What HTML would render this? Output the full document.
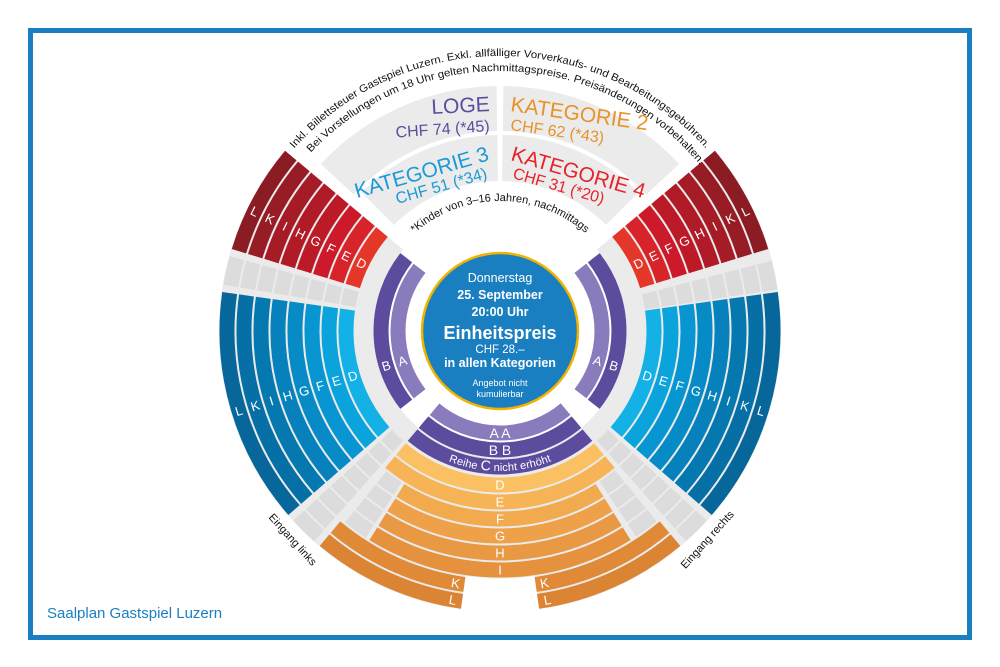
<!DOCTYPE html>
<html><head><meta charset="utf-8"><style>
html,body{margin:0;padding:0;background:#fff;overflow:hidden;width:1000px;height:667px;}
svg{display:block;font-family:"Liberation Sans",sans-serif;}
</style></head><body>
<svg width="1000" height="667" viewBox="0 0 1000 667" xmlns="http://www.w3.org/2000/svg">
<rect x="30.5" y="30.5" width="939" height="607" fill="#fff" stroke="#1a7fc1" stroke-width="5"/>
<text x="47" y="618" font-size="15" fill="#1a7fc1">Saalplan Gastspiel Luzern</text>

<g fill="none">
<circle cx="500" cy="331" r="187" stroke="#ebebeb" stroke-width="121" pathLength="360" stroke-dasharray="260 999" transform="rotate(-40 500 331)"/>
<circle cx="500" cy="331" r="264" stroke="#ebebeb" stroke-width="34" pathLength="360" stroke-dasharray="122 999" transform="rotate(-40 500 331)"/>
<circle cx="500" cy="331" r="264" stroke="#ebebeb" stroke-width="34" pathLength="360" stroke-dasharray="122 999" transform="rotate(98 500 331)"/>
<circle cx="500" cy="331" r="222.5" stroke="#ebebeb" stroke-width="45" pathLength="360" stroke-dasharray="46.2 999" transform="rotate(223 500 331)"/>
<circle cx="500" cy="331" r="222.5" stroke="#ebebeb" stroke-width="45" pathLength="360" stroke-dasharray="46.2 999" transform="rotate(-89.2 500 331)"/>
<circle cx="500" cy="331" r="173" stroke="#ebebeb" stroke-width="46" pathLength="360" stroke-dasharray="44.2 999" transform="rotate(225 500 331)"/>
<circle cx="500" cy="331" r="173" stroke="#ebebeb" stroke-width="46" pathLength="360" stroke-dasharray="44.2 999" transform="rotate(-89.2 500 331)"/>
</g>

<g fill="none" stroke-width="15">
<g stroke-dasharray="23 999" transform="rotate(197 500 331)">
<circle cx="500" cy="331" r="154" stroke="#e5362a" pathLength="360"/>
<circle cx="500" cy="331" r="171" stroke="#d7232a" pathLength="360"/>
<circle cx="500" cy="331" r="188" stroke="#cc1a2a" pathLength="360"/>
<circle cx="500" cy="331" r="205" stroke="#bd1a28" pathLength="360"/>
<circle cx="500" cy="331" r="222" stroke="#b01b27" pathLength="360"/>
<circle cx="500" cy="331" r="239" stroke="#a51c27" pathLength="360"/>
<circle cx="500" cy="331" r="256" stroke="#981c25" pathLength="360"/>
<circle cx="500" cy="331" r="273" stroke="#8b1c24" pathLength="360"/>
</g>
<g stroke-dasharray="23 999" transform="rotate(-40 500 331)">
<circle cx="500" cy="331" r="154" stroke="#e5362a" pathLength="360"/>
<circle cx="500" cy="331" r="171" stroke="#d7232a" pathLength="360"/>
<circle cx="500" cy="331" r="188" stroke="#cc1a2a" pathLength="360"/>
<circle cx="500" cy="331" r="205" stroke="#bd1a28" pathLength="360"/>
<circle cx="500" cy="331" r="222" stroke="#b01b27" pathLength="360"/>
<circle cx="500" cy="331" r="239" stroke="#a51c27" pathLength="360"/>
<circle cx="500" cy="331" r="256" stroke="#981c25" pathLength="360"/>
<circle cx="500" cy="331" r="273" stroke="#8b1c24" pathLength="360"/>
</g>
<g stroke-dasharray="49 999" transform="rotate(139 500 331)">
<circle cx="500" cy="331" r="154" stroke="#14b1e6" pathLength="360"/>
<circle cx="500" cy="331" r="171" stroke="#0aa3dc" pathLength="360"/>
<circle cx="500" cy="331" r="188" stroke="#0796d1" pathLength="360"/>
<circle cx="500" cy="331" r="205" stroke="#068bc6" pathLength="360"/>
<circle cx="500" cy="331" r="222" stroke="#0681bb" pathLength="360"/>
<circle cx="500" cy="331" r="239" stroke="#0678b0" pathLength="360"/>
<circle cx="500" cy="331" r="256" stroke="#066fa5" pathLength="360"/>
<circle cx="500" cy="331" r="273" stroke="#07679b" pathLength="360"/>
</g>
<g stroke-dasharray="49 999" transform="rotate(-8 500 331)">
<circle cx="500" cy="331" r="154" stroke="#14b1e6" pathLength="360"/>
<circle cx="500" cy="331" r="171" stroke="#0aa3dc" pathLength="360"/>
<circle cx="500" cy="331" r="188" stroke="#0796d1" pathLength="360"/>
<circle cx="500" cy="331" r="205" stroke="#068bc6" pathLength="360"/>
<circle cx="500" cy="331" r="222" stroke="#0681bb" pathLength="360"/>
<circle cx="500" cy="331" r="239" stroke="#0678b0" pathLength="360"/>
<circle cx="500" cy="331" r="256" stroke="#066fa5" pathLength="360"/>
<circle cx="500" cy="331" r="273" stroke="#07679b" pathLength="360"/>
</g>
<g stroke="#dcdcdc" stroke-dasharray="6 999">
<g transform="rotate(189.5 500 331)">
<circle cx="500" cy="331" r="154" pathLength="360"/><circle cx="500" cy="331" r="171" pathLength="360"/><circle cx="500" cy="331" r="188" pathLength="360"/><circle cx="500" cy="331" r="205" pathLength="360"/><circle cx="500" cy="331" r="222" pathLength="360"/><circle cx="500" cy="331" r="239" pathLength="360"/><circle cx="500" cy="331" r="256" pathLength="360"/><circle cx="500" cy="331" r="273" pathLength="360"/>
</g>
<g transform="rotate(-14.5 500 331)">
<circle cx="500" cy="331" r="154" pathLength="360"/><circle cx="500" cy="331" r="171" pathLength="360"/><circle cx="500" cy="331" r="188" pathLength="360"/><circle cx="500" cy="331" r="205" pathLength="360"/><circle cx="500" cy="331" r="222" pathLength="360"/><circle cx="500" cy="331" r="239" pathLength="360"/><circle cx="500" cy="331" r="256" pathLength="360"/><circle cx="500" cy="331" r="273" pathLength="360"/>
</g>
<g transform="rotate(131.5 500 331)">
<circle cx="500" cy="331" r="154" pathLength="360"/><circle cx="500" cy="331" r="171" pathLength="360"/><circle cx="500" cy="331" r="188" pathLength="360"/><circle cx="500" cy="331" r="205" pathLength="360"/><circle cx="500" cy="331" r="222" pathLength="360"/><circle cx="500" cy="331" r="239" pathLength="360"/><circle cx="500" cy="331" r="256" pathLength="360"/><circle cx="500" cy="331" r="273" pathLength="360"/>
</g>
<g transform="rotate(42.5 500 331)">
<circle cx="500" cy="331" r="154" pathLength="360"/><circle cx="500" cy="331" r="171" pathLength="360"/><circle cx="500" cy="331" r="188" pathLength="360"/><circle cx="500" cy="331" r="205" pathLength="360"/><circle cx="500" cy="331" r="222" pathLength="360"/><circle cx="500" cy="331" r="239" pathLength="360"/><circle cx="500" cy="331" r="256" pathLength="360"/><circle cx="500" cy="331" r="273" pathLength="360"/>
</g>
<g transform="rotate(123 500 331)">
<circle cx="500" cy="331" r="188" pathLength="360"/><circle cx="500" cy="331" r="205" pathLength="360"/><circle cx="500" cy="331" r="222" pathLength="360"/><circle cx="500" cy="331" r="239" pathLength="360"/>
</g>
<g transform="rotate(50.5 500 331)">
<circle cx="500" cy="331" r="188" pathLength="360"/><circle cx="500" cy="331" r="205" pathLength="360"/><circle cx="500" cy="331" r="222" pathLength="360"/><circle cx="500" cy="331" r="239" pathLength="360"/>
</g>
</g>
<g stroke-dasharray="80 999" transform="rotate(50 500 331)">
<circle cx="500" cy="331" r="102" stroke="#8a7bbd" pathLength="360"/>
<circle cx="500" cy="331" r="119" stroke="#5d4c9e" pathLength="360"/>
<circle cx="500" cy="331" r="136" stroke="#5d4c9e" pathLength="360"/>
<circle cx="500" cy="331" r="154" stroke="#fbc062" pathLength="360"/>
<circle cx="500" cy="331" r="171" stroke="#f6b457" pathLength="360"/>
</g>
<g stroke-dasharray="64 999" transform="rotate(58 500 331)">
<circle cx="500" cy="331" r="188" stroke="#f2aa4f" pathLength="360"/>
<circle cx="500" cy="331" r="205" stroke="#eea149" pathLength="360"/>
<circle cx="500" cy="331" r="222" stroke="#e99943" pathLength="360"/>
<circle cx="500" cy="331" r="239" stroke="#e5913d" pathLength="360"/>
</g>
<g stroke-dasharray="32 999" transform="rotate(98 500 331)">
<circle cx="500" cy="331" r="256" stroke="#e08a38" pathLength="360"/>
<circle cx="500" cy="331" r="273" stroke="#db8434" pathLength="360"/>
</g>
<g stroke-dasharray="32 999" transform="rotate(50 500 331)">
<circle cx="500" cy="331" r="256" stroke="#e08a38" pathLength="360"/>
<circle cx="500" cy="331" r="273" stroke="#db8434" pathLength="360"/>
</g>
<g stroke-dasharray="76 999" transform="rotate(142 500 331)">
<circle cx="500" cy="331" r="102" stroke="#8a7bbd" pathLength="360"/>
<circle cx="500" cy="331" r="119" stroke="#5d4c9e" pathLength="360"/>
</g>
<g stroke-dasharray="76 999" transform="rotate(-38 500 331)">
<circle cx="500" cy="331" r="102" stroke="#8a7bbd" pathLength="360"/>
<circle cx="500" cy="331" r="119" stroke="#5d4c9e" pathLength="360"/>
</g>
</g>

<circle cx="500" cy="331" r="78" fill="#1a7fc1" stroke="#f0b400" stroke-width="2.5"/>
<g fill="#fff" text-anchor="middle">
<text x="500" y="282" font-size="12.5">Donnerstag</text>
<text x="500" y="299" font-size="12.5" font-weight="bold">25. September</text>
<text x="500" y="316" font-size="12.5" font-weight="bold">20:00 Uhr</text>
<text x="500" y="339" font-size="18" font-weight="bold">Einheitspreis</text>
<text x="500" y="353" font-size="11.5">CHF 28.–</text>
<text x="500" y="367" font-size="12.5" font-weight="bold">in allen Kategorien</text>
<text x="500" y="386" font-size="9">Angebot nicht</text>
<text x="500" y="397" font-size="9">kumulierbar</text>
</g>

<g fill="#fff" font-size="13" text-anchor="middle">
<text dy=".35em" transform="rotate(73 500 331) translate(500 485) rotate(-90)">D</text>
<text dy=".35em" transform="rotate(73 500 331) translate(500 502) rotate(-90)">E</text>
<text dy=".35em" transform="rotate(73 500 331) translate(500 519) rotate(-90)">F</text>
<text dy=".35em" transform="rotate(73 500 331) translate(500 536) rotate(-90)">G</text>
<text dy=".35em" transform="rotate(73 500 331) translate(500 553) rotate(-90)">H</text>
<text dy=".35em" transform="rotate(73 500 331) translate(500 570) rotate(-90)">I</text>
<text dy=".35em" transform="rotate(73 500 331) translate(500 587) rotate(-90)">K</text>
<text dy=".35em" transform="rotate(73 500 331) translate(500 604) rotate(-90)">L</text>
<text dy=".35em" transform="rotate(116 500 331) translate(500 485) rotate(-90)">D</text>
<text dy=".35em" transform="rotate(116 500 331) translate(500 502) rotate(-90)">E</text>
<text dy=".35em" transform="rotate(116 500 331) translate(500 519) rotate(-90)">F</text>
<text dy=".35em" transform="rotate(116 500 331) translate(500 536) rotate(-90)">G</text>
<text dy=".35em" transform="rotate(116 500 331) translate(500 553) rotate(-90)">H</text>
<text dy=".35em" transform="rotate(116 500 331) translate(500 570) rotate(-90)">I</text>
<text dy=".35em" transform="rotate(116 500 331) translate(500 587) rotate(-90)">K</text>
<text dy=".35em" transform="rotate(116 500 331) translate(500 604) rotate(-90)">L</text>
<text dy=".35em" transform="rotate(-73 500 331) translate(500 485) rotate(90)">D</text>
<text dy=".35em" transform="rotate(-73 500 331) translate(500 502) rotate(90)">E</text>
<text dy=".35em" transform="rotate(-73 500 331) translate(500 519) rotate(90)">F</text>
<text dy=".35em" transform="rotate(-73 500 331) translate(500 536) rotate(90)">G</text>
<text dy=".35em" transform="rotate(-73 500 331) translate(500 553) rotate(90)">H</text>
<text dy=".35em" transform="rotate(-73 500 331) translate(500 570) rotate(90)">I</text>
<text dy=".35em" transform="rotate(-73 500 331) translate(500 587) rotate(90)">K</text>
<text dy=".35em" transform="rotate(-73 500 331) translate(500 604) rotate(90)">L</text>
<text dy=".35em" transform="rotate(-116 500 331) translate(500 485) rotate(90)">D</text>
<text dy=".35em" transform="rotate(-116 500 331) translate(500 502) rotate(90)">E</text>
<text dy=".35em" transform="rotate(-116 500 331) translate(500 519) rotate(90)">F</text>
<text dy=".35em" transform="rotate(-116 500 331) translate(500 536) rotate(90)">G</text>
<text dy=".35em" transform="rotate(-116 500 331) translate(500 553) rotate(90)">H</text>
<text dy=".35em" transform="rotate(-116 500 331) translate(500 570) rotate(90)">I</text>
<text dy=".35em" transform="rotate(-116 500 331) translate(500 587) rotate(90)">K</text>
<text dy=".35em" transform="rotate(-116 500 331) translate(500 604) rotate(90)">L</text>
<text dy=".35em" transform="rotate(73 500 331) translate(500 433) rotate(-90)">A</text>
<text dy=".35em" transform="rotate(73 500 331) translate(500 450) rotate(-90)">B</text>
<text dy=".35em" transform="rotate(-73 500 331) translate(500 433) rotate(90)">A</text>
<text dy=".35em" transform="rotate(-73 500 331) translate(500 450) rotate(90)">B</text>
<text x="500" y="433" dy=".35em" font-size="14">A A</text>
<text x="500" y="450" dy=".35em" font-size="14">B B</text>
<text x="500" y="485" dy=".35em">D</text>
<text x="500" y="502" dy=".35em">E</text>
<text x="500" y="519" dy=".35em">F</text>
<text x="500" y="536" dy=".35em">G</text>
<text x="500" y="553" dy=".35em">H</text>
<text x="500" y="570" dy=".35em">I</text>
<text dy=".35em" transform="rotate(10 500 331) translate(500 587)">K</text>
<text dy=".35em" transform="rotate(10 500 331) translate(500 604)">L</text>
<text dy=".35em" transform="rotate(-10 500 331) translate(500 587)">K</text>
<text dy=".35em" transform="rotate(-10 500 331) translate(500 604)">L</text>
</g>

<defs>
<path id="t1" d="M 225 331 A 275 275 0 0 1 775 331"/>
<path id="t2" d="M 240 331 A 260 260 0 0 1 760 331"/>
<path id="tk" d="M 370 331 A 130 130 0 0 1 630 331"/>
<path id="bc" d="M 364 331 A 136 136 0 0 0 636 331"/>
</defs>
<text font-size="10.5" fill="#111" text-anchor="middle"><textPath href="#t1" startOffset="50%" textLength="465" lengthAdjust="spacingAndGlyphs">Inkl. Billettsteuer Gastspiel Luzern. Exkl. allfälliger Vorverkaufs- und Bearbeitungsgebühren.</textPath></text>
<text font-size="10.5" fill="#111" text-anchor="middle"><textPath href="#t2" startOffset="51%" textLength="440" lengthAdjust="spacingAndGlyphs">Bei Vorstellungen um 18 Uhr gelten Nachmittagspreise. Preisänderungen vorbehalten.</textPath></text>
<text font-size="11" fill="#111" text-anchor="middle"><textPath href="#tk" startOffset="50%">*Kinder von 3–16 Jahren, nachmittags</textPath></text>
<text font-size="11" fill="#fff" text-anchor="middle" dy="4"><textPath href="#bc" startOffset="50%">Reihe <tspan font-size="14">C</tspan> nicht erhöht</textPath></text>

<g font-size="21" text-anchor="end">
<text x="490" y="111" fill="#5d4c9e" transform="rotate(-3 490 111)">LOGE</text>
<text x="490" y="131" fill="#5d4c9e" font-size="16" transform="rotate(-4 490 131)">CHF 74 (*45)</text>
<text x="490" y="160" fill="#1b9ad6" transform="rotate(-16 490 160)">KATEGORIE 3</text>
<text x="488" y="178" fill="#1b9ad6" font-size="16" transform="rotate(-16 488 178)">CHF 51 (*34)</text>
</g>
<g font-size="21" text-anchor="start">
<text x="510" y="111" fill="#e8922a" transform="rotate(8 510 111)">KATEGORIE 2</text>
<text x="510" y="130" fill="#e8922a" font-size="16" transform="rotate(8 510 130)">CHF 62 (*43)</text>
<text x="510" y="160" fill="#e5252a" transform="rotate(16 510 160)">KATEGORIE 4</text>
<text x="512" y="178" fill="#e5252a" font-size="16" transform="rotate(16 512 178)">CHF 31 (*20)</text>
</g>

<text x="290" y="542" font-size="11" fill="#111" text-anchor="middle" transform="rotate(48 290 542)">Eingang links</text>
<text x="710" y="542" font-size="11" fill="#111" text-anchor="middle" transform="rotate(-48 710 542)">Eingang rechts</text>
</svg>
</body></html>
